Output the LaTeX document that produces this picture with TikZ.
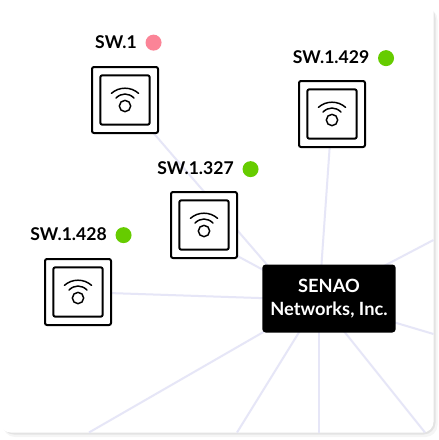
\documentclass[tikz,border=0pt]{standalone}
\usepackage{fontspec}
\setmainfont{Lato}
\usepackage{tikz}
\usetikzlibrary{positioning,calc,backgrounds}
\definecolor{swLink}{HTML}{E6E6F7}
\definecolor{swUp}{HTML}{66CC00}
\definecolor{swDown}{HTML}{FB8497}
\definecolor{swShadow}{HTML}{E3E3E3}
\tikzset{
    swBox/.style={draw=black, line width=1.5pt, rounded corners=1.5pt, fill=white, minimum size=49.5pt, inner sep=0pt},
    swInner/.style={draw=black, line width=1.5pt, rounded corners=1.5pt, fill=white, minimum size=37pt, inner sep=0pt},
    swName/.style={font=\fontsize{13.2pt}{15pt}\selectfont\bfseries, inner sep=0pt, anchor=base east},
    swDot/.style={circle, minimum size=12pt, inner sep=0pt, yshift=-0.75pt},
    hubBox/.style={fill=black, rounded corners=2.5pt, text=white, minimum width=100pt, minimum height=51pt, align=center, inner sep=0pt, font=\fontsize{13.7pt}{17pt}\selectfont\bfseries},
    link/.style={draw=swLink, line width=1.5pt}
}
% one switch: outer box, inner box, wifi mark
\newcommand{\swItem}[7]{
    \node[swBox] (#1) at (#3,#4) {};
    \node[swInner] (#1in) at (#1) {};
    \node[circle, draw=black, line width=1.1pt, minimum size=8.5pt, inner sep=0pt] (#1lens) at ($(#1)+(0,6)$) {};
    \draw[black, line width=1.1pt, line cap=round] ($(#1)+(-9,-2)$) .. controls ($(#1)+(-3.5,-7.3)$) and ($(#1)+(3.5,-7.3)$) .. ($(#1)+(9,-2)$);
    \draw[black, line width=1.1pt, line cap=round] ($(#1)+(-13.5,-6.7)$) .. controls ($(#1)+(-6,-13.5)$) and ($(#1)+(6,-13.5)$) .. ($(#1)+(13.5,-6.7)$);
    \node[swName] (#1name) at (#5,#6) {#2};
    \node[swDot, fill=#7, right=6.2pt of #1name.east] (#1dot) {};
}
\begin{document}
\begin{tikzpicture}[x=0.75pt, y=-0.75pt]
\useasboundingbox (0,0) rectangle (439,440);
% card
\fill[swShadow!35, rounded corners=9pt] (3,8) rectangle (437.5,437);
\fill[swShadow, rounded corners=9pt] (2,6) rectangle (435.5,434.5);
\fill[white, rounded corners=8pt] (0,0) rectangle (433.5,432.5);
\coordinate (hubC) at (319,300);
\coordinate (hubD) at (300,303);
\coordinate (endA) at (433.5,240);
\coordinate (endB) at (433.5,334);
\coordinate (endC) at (425,432.5);
\coordinate (endD) at (319,432.5);
\coordinate (endE) at (237,432.5);
\coordinate (endF) at (89,432.5);
\coordinate (swa) at (125,100);
\coordinate (swb) at (332,114);
\coordinate (swc) at (204,238);
\coordinate (swd) at (78,292);
\foreach \e in {endA,endB,endC,endD,endE,endF,swb,swc,swd}
    \draw[link] (hubC) -- (\e);
\draw[link] (swa) -- (hubD);
\swItem{swaBox}{SW.1}{125}{100}{137}{48}{swDown}
\swItem{swbBox}{SW.1.429}{332}{114}{369.5}{63.5}{swUp}
\swItem{swcBox}{SW.1.327}{204}{225}{234}{174.5}{swUp}
\swItem{swdBox}{SW.1.428}{78}{292}{107}{240.5}{swUp}
\node[hubBox] (hub) at (329,298.5) {SENAO\\Networks, Inc.};
\end{tikzpicture}
\end{document}
